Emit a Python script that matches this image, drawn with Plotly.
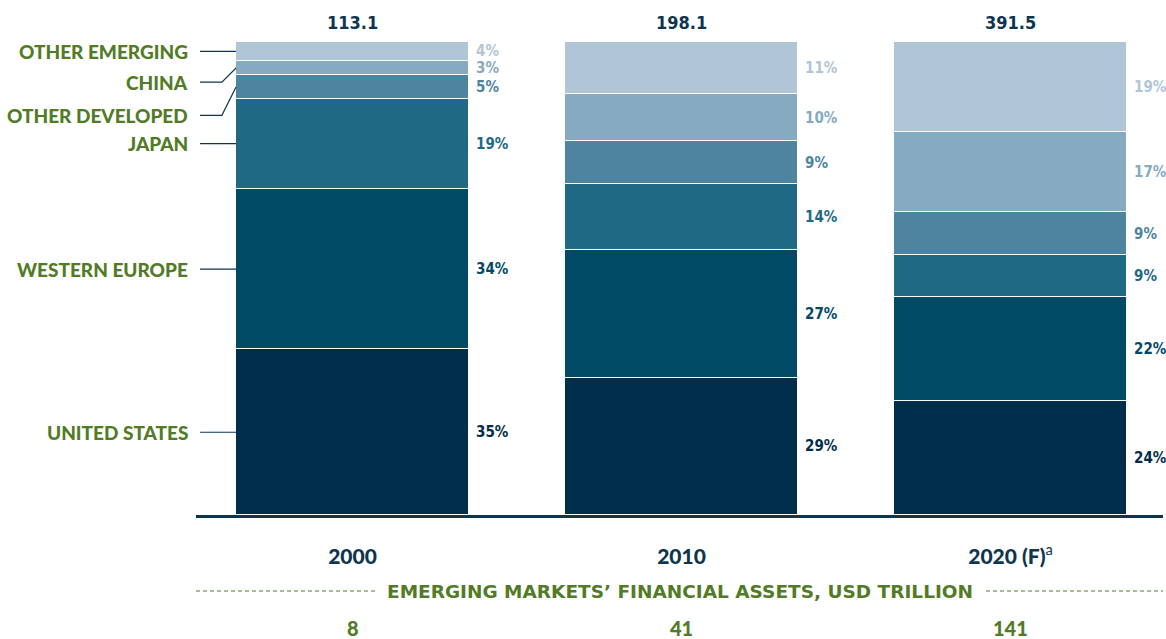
import plotly.graph_objects as go

years = ["2000", "2010", "2020 (F)<sup><span style='font-weight:normal'>a</span></sup>"]
series = ["United States", "Western Europe", "Japan", "Other developed", "China", "Other emerging"]
united_states = [35, 29, 24]
western_europe = [34, 27, 22]
japan = [19, 14, 9]
other_developed = [5, 9, 9]
china = [3, 10, 17]
other_emerging = [4, 11, 19]
totals = ["113.1", "198.1", "391.5"]
em_assets = ["8", "41", "141"]

values = [united_states, western_europe, japan, other_developed, china, other_emerging]
colors = ["#002d4a", "#004a66", "#206985", "#4e849f", "#86aabf", "#b0c6d6"]

NAVY = "#0d3550"
GREEN = "#527b26"
LABEL_FONT = "Lato"
NARROW = "DejaVu Sans Condensed"
BAR_W = 0.708
W, H = 1166, 639

# label shifts (data units) for the two thin segments that are pushed apart
label_shift = {"China": -3, "Other developed": -6}

fig = go.Figure()
x = [0, 1, 2]
for name, vals, col in zip(series, values, colors):
    fig.add_trace(go.Bar(
        x=x, y=vals, name=name, width=BAR_W,
        marker=dict(color=col, line=dict(color="white", width=1.5)),
        hoverinfo="skip",
    ))

# percent labels right of each segment
for i in range(3):
    base = 0
    for vals, col in zip(values, colors):
        v = vals[i]
        fig.add_annotation(
            x=i + BAR_W / 2, y=base + v / 2, xref="x", yref="y",
            text=f"{v}%", showarrow=False, xanchor="left", yanchor="middle",
            xshift=5, font=dict(family=NARROW, size=15, color=col, weight="bold"),
        )
        base += v
    fig.add_annotation(
        x=i, y=100, xref="x", yref="y", text=totals[i], showarrow=False,
        yanchor="bottom", yshift=7,
        font=dict(family=NARROW, size=18, color=NAVY, weight="bold"),
    )

# series labels on the left with connectors to the 2000 bar
x_line0 = -0.4635
x_bend = -0.397
x_bar = -BAR_W / 2
base = 0
for name, vals in zip(series, values):
    center = base + vals[0] / 2
    base += vals[0]
    ly = center + label_shift.get(name, 0)
    fig.add_annotation(
        x=x_line0, y=ly, xref="x", yref="y", text=name.upper(), showarrow=False,
        xanchor="right", yanchor="middle", xshift=-10,
        font=dict(family=LABEL_FONT, size=19, color=GREEN, weight=900),
    )
    if name in label_shift:
        fig.add_shape(type="path", xref="x", yref="y",
                      path=f"M {x_line0},{ly} L {x_bend},{ly} L {x_bar},{center}",
                      line=dict(color=NAVY, width=1.2))
    else:
        fig.add_shape(type="line", xref="x", yref="y",
                      x0=x_line0, x1=x_bar, y0=ly, y1=ly,
                      line=dict(color=NAVY, width=1.2))

# bottom strip: emerging markets financial assets
title_y = -0.1607
fig.add_shape(type="line", xref="paper", yref="paper", x0=0, x1=0.188,
              y0=title_y, y1=title_y, line=dict(color=GREEN, width=1, dash="4px,3px"))
fig.add_shape(type="line", xref="paper", yref="paper", x0=0.817, x1=1,
              y0=title_y, y1=title_y, line=dict(color=GREEN, width=1, dash="4px,3px"))
fig.add_annotation(
    x=0.5, y=title_y, xref="paper", yref="paper",
    text="EMERGING MARKETS’ FINANCIAL ASSETS, USD TRILLION",
    showarrow=False, yanchor="middle",
    font=dict(family="DejaVu Sans", size=18.5, color=GREEN, weight="bold"),
)
for i, val in enumerate(em_assets):
    fig.add_annotation(
        x=i, y=-0.239, xref="x", yref="paper", text=val, showarrow=False,
        yanchor="middle", font=dict(family=LABEL_FONT, size=20, color=GREEN, weight=900),
    )

fig.update_layout(
    width=W, height=H,
    margin=dict(l=196, r=3, t=42, b=124),
    barmode="stack", showlegend=False,
    plot_bgcolor="white", paper_bgcolor="white",
    bargap=0,
)
fig.update_xaxes(
    range=[-0.4757, 2.4635], tickvals=x, ticktext=years,
    showgrid=False, zeroline=False, showline=True, linecolor=NAVY, linewidth=3,
    ticks="", ticklabelstandoff=21,
    tickfont=dict(family=LABEL_FONT, size=21, color=NAVY, weight=900),
)
fig.update_yaxes(range=[0, 100], visible=False)

fig.write_html("out.html", config={"displayModeBar": False},
               post_script="document.body.style.margin='0';")
